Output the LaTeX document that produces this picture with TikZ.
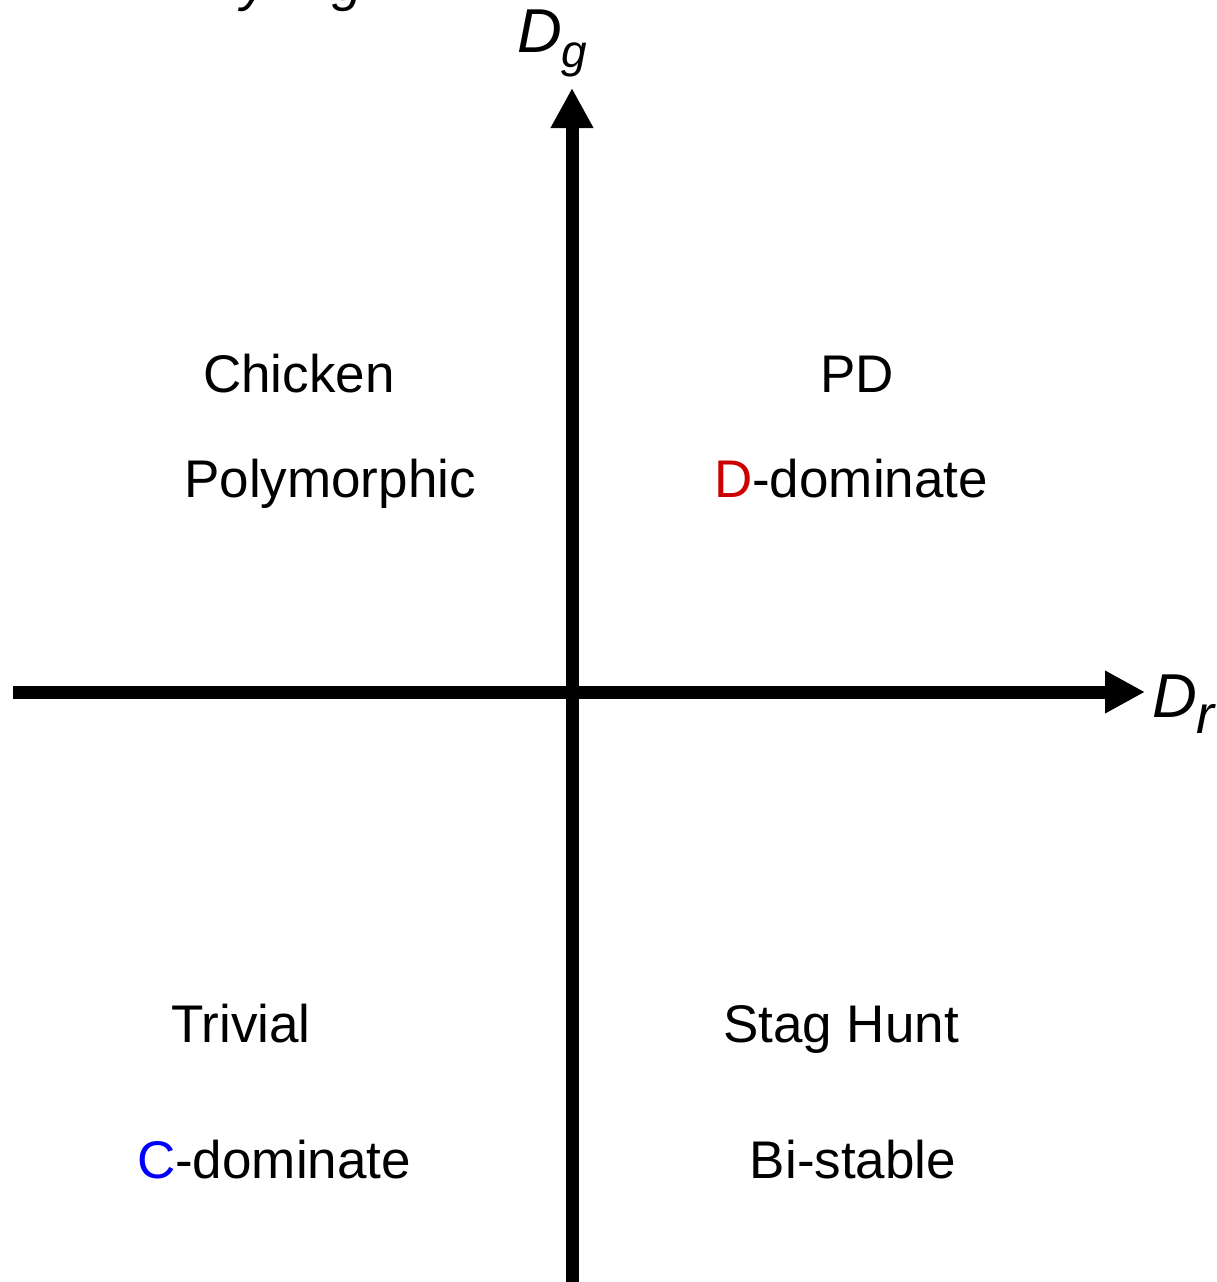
\documentclass[tikz,border=0pt]{standalone}
\usepackage{fontspec}
\setmainfont{Liberation Sans}
\usetikzlibrary{arrows.meta}
\definecolor{dred}{RGB}{204,0,0}
\definecolor{cblue}{RGB}{0,0,255}
\tikzset{
  axis/.style={line width=13pt,-{Triangle[length=40pt,width=40pt]}},
  lbl/.style={anchor=base,inner sep=0pt,font=\fontsize{53}{60}\selectfont},
  axlbl/.style={anchor=base west,inner sep=0pt,font=\fontsize{62}{66}\selectfont\itshape},
}
\begin{document}
\begin{tikzpicture}[x=1pt,y=-1pt]
\useasboundingbox (0,0) rectangle (1217,1282);
\clip (0,0) rectangle (1217,1282);
% clipped fragments of a title above the picture
\node[lbl,font=\fontsize{54}{60}\selectfont\itshape] (fy) at (255,1) {y};
\node[lbl,font=\fontsize{54}{60}\selectfont\itshape] (fg) at (348,1) {g};
% axes
\coordinate (xl) at (13,692);
\coordinate (xr) at (1145,692);
\coordinate (yb) at (572,1290);
\coordinate (yt) at (572,88);
\draw[axis] (xl) -- (xr);
\draw[axis] (yb) -- (yt);
% axis labels
\node[axlbl] (dg) at (517,52) {D\raisebox{-15pt}{\fontsize{46}{50}\selectfont g}};
\node[axlbl] (dr) at (1152,717) {D\raisebox{-16pt}{\fontsize{54}{58}\selectfont r}};
% quadrant texts
\node[lbl] (chicken) at (299,392) {Chicken};
\node[lbl] (poly) at (330,497) {Polymorphic};
\node[lbl] (pd) at (857,392) {PD};
\node[lbl] (ddom) at (851,497) {\textcolor{dred}{D}-dominate};
\node[lbl] (trivial) at (241,1042) {Trivial};
\node[lbl] (cdom) at (274,1178) {\textcolor{cblue}{C}-dominate};
\node[lbl] (stag) at (841,1042) {Stag Hunt};
\node[lbl] (bist) at (853,1178) {Bi-stable};
\end{tikzpicture}
\end{document}
